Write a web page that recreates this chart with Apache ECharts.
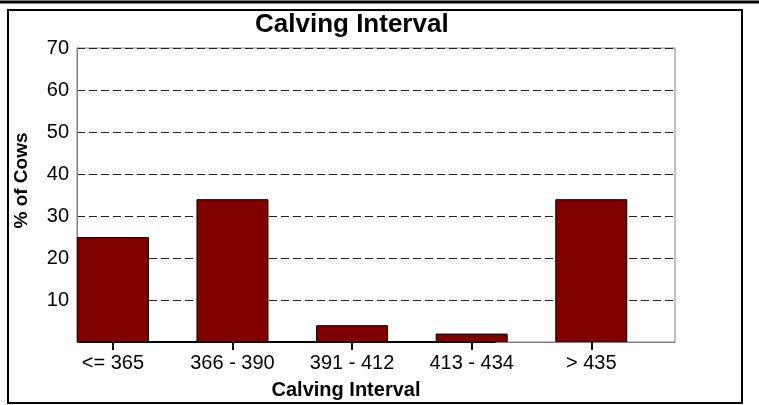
<!DOCTYPE html>
<html>
<head>
<meta charset="utf-8">
<script src="https://cdn.jsdelivr.net/npm/echarts@6/dist/echarts.min.js"></script>
<style>
  html, body { margin: 0; padding: 0; background: #fff; }
  #chart { width: 759px; height: 405px; }
</style>
</head>
<body>
<div id="chart"></div>
<script>
// categories and values
const categories = ['<= 365', '366 - 390', '391 - 412', '413 - 434', '> 435'];
const percentCows = [25, 34, 4, 2, 34];
const yTicks = [0, 10, 20, 30, 40, 50, 60, 70];
const catPositions = [0, 1, 2, 3, 4];

let chartDom = document.getElementById('chart');
let myChart = echarts.init(chartDom);
let font = '"Liberation Sans", Arial, sans-serif';

let option = {
  animation: false,
  backgroundColor: '#fff',
  title: {
    text: 'Calving Interval',
    left: 250,
    top: 7,
    textStyle: { fontFamily: font, fontSize: 26, fontWeight: 'bold', color: '#000' }
  },
  graphic: [
    // rule across the top and the frame round the chart
    { type: 'line', shape: { x1: 0, y1: 2, x2: 759, y2: 2 }, style: { stroke: '#000', lineWidth: 3 } },
    { type: 'rect', shape: { x: 8, y: 10, width: 734, height: 393 }, style: { fill: null, stroke: '#000', lineWidth: 2 } }
  ],
  grid: {
    left: 77,
    right: 84,
    top: 48,
    bottom: 62,
    show: true,
    borderColor: '#808080',
    borderWidth: 1
  },
  xAxis: {
    type: 'value',
    min: -0.3,
    max: 4.7,
    name: 'Calving Interval',
    nameLocation: 'middle',
    nameGap: 38,
    nameTextStyle: { fontFamily: font, fontSize: 20, fontWeight: 'bold', color: '#000', padding: [0, 60, 0, 0] },
    axisLine: { show: true, onZero: false, lineStyle: { color: '#808080', width: 1 } },
    axisTick: { show: true, customValues: catPositions, length: 8, lineStyle: { color: '#000', width: 2 } },
    axisLabel: {
      customValues: catPositions,
      margin: 11,
      fontFamily: font,
      fontSize: 20,
      color: '#000',
      formatter: function (v) { return categories[Math.round(v)]; }
    },
    splitLine: { show: false }
  },
  yAxis: {
    type: 'value',
    min: yTicks[0],
    max: yTicks[yTicks.length - 1],
    interval: 10,
    name: '% of Cows',
    nameLocation: 'middle',
    nameGap: 46,
    nameTextStyle: { fontFamily: font, fontSize: 19, fontWeight: 'bold', color: '#000', padding: [0, 0, 0, 29] },
    axisLine: { show: true, onZero: false, lineStyle: { color: '#808080', width: 1 } },
    axisTick: { show: false },
    axisLabel: {
      margin: 8,
      fontFamily: font,
      fontSize: 20,
      color: '#000',
      formatter: function (v) { return v === 0 ? '' : String(v); }
    },
    splitLine: { show: true, lineStyle: { color: '#222', width: 1, type: [8, 4] } }
  },
  series: [
    {
      type: 'bar',
      barWidth: 72,
      data: percentCows.map((v, i) => [catPositions[i], v]),
      itemStyle: { color: '#800000', borderColor: '#000', borderWidth: 1 },
      markLine: {
        silent: true,
        symbol: 'none',
        label: { show: false },
        lineStyle: { color: '#000', width: 2, type: 'solid' },
        data: [[{ xAxis: -0.29, yAxis: 0.05 }, { xAxis: 3.2, yAxis: 0.05 }]]
      }
    }
  ]
};
myChart.setOption(option);
</script>
</body>
</html>
